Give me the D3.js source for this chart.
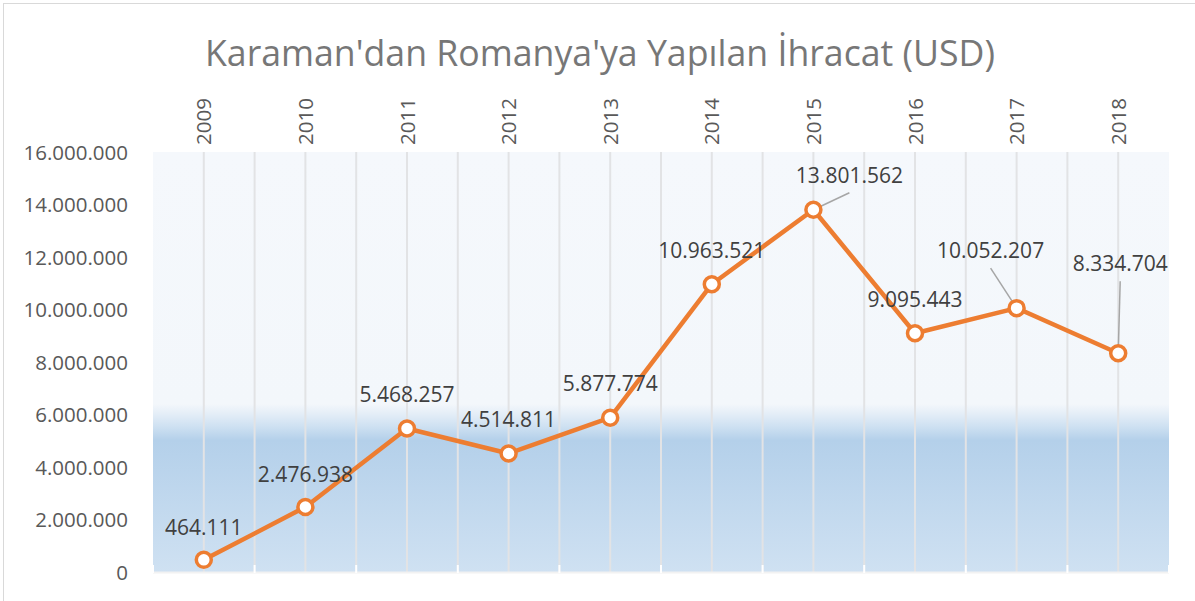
<!DOCTYPE html>
<html>
<head>
<meta charset="utf-8">
<script src="https://cdn.jsdelivr.net/npm/d3@7"></script>
<style>
  html, body { margin: 0; padding: 0; background: #fff; }
  svg { display: block; }
</style>
</head>
<body>
<div id="chart"></div>
<script>
// data
const years = ['2009', '2010', '2011', '2012', '2013', '2014', '2015', '2016', '2017', '2018']
const exports = [464111, 2476938, 5468257, 4514811, 5877774, 10963521, 13801562, 9095443, 10052207, 8334704]
const yTicks = [0, 2000000, 4000000, 6000000, 8000000, 10000000, 12000000, 14000000, 16000000]
const title = "Karaman'dan Romanya'ya Yapılan İhracat (USD)"

// label placement relative to the point: [dx, dy of baseline, leader line?]
const labelPlacement = [
  [0, -25, false], [0, -25, false], [0, -26, false], [0, -26, false], [0, -27, false],
  [0, -26, false], [36, -27, true], [0, -26, false], [-26, -50, true], [2, -82, true]
]

const width = 1195, height = 601
const margin = { top: 152, right: 26, bottom: 29, left: 153 }

const fmt = v => d3.format(',')(v).replace(/,/g, '.')

const svg = d3.select('#chart').append('svg')
  .attr('width', width)
  .attr('height', height)

// chart border
svg.append('rect')
  .attr('x', 3.5).attr('y', 3.5)
  .attr('width', width).attr('height', height)
  .attr('fill', '#fff')
  .attr('stroke', '#d9d9d9')

// plot area gradient
const defs = svg.append('defs')
const grad = defs.append('linearGradient')
  .attr('id', 'plotBg')
  .attr('x1', 0).attr('y1', 0).attr('x2', 0).attr('y2', 1)
const stops = [
  [0, '#f5f8fc'], [0.6, '#f3f7fb'], [0.625, '#e3edf7'], [0.655, '#cde0f1'], [0.686, '#b4d0ea'], [1, '#cfe1f2']
]
stops.forEach(s => grad.append('stop').attr('offset', s[0]).attr('stop-color', s[1]))

const x = d3.scalePoint()
  .domain(years)
  .range([margin.left, width - margin.right])
  .padding(0.5)
const step = x.step()

const y = d3.scaleLinear()
  .domain([0, 16000000])
  .range([height - margin.bottom, margin.top])

const plotW = width - margin.right - margin.left
svg.append('rect')
  .attr('x', margin.left).attr('y', margin.top)
  .attr('width', plotW).attr('height', y(0) - margin.top)
  .attr('fill', 'url(#plotBg)')

// vertical gridlines at centers and boundaries
const gridXs = []
years.forEach(yr => { gridXs.push(x(yr)); gridXs.push(x(yr) + step / 2) })
svg.append('g')
  .selectAll('line')
  .data(gridXs.filter(gx => gx < width - margin.right - 2))
  .join('line')
  .attr('x1', d => d).attr('x2', d => d)
  .attr('y1', margin.top).attr('y2', y(0))
  .attr('stroke', '#e2e3e5')
  .attr('stroke-width', 2)

// bottom axis (white line and inner ticks at boundaries)
const bounds = [x(years[0]) - step / 2].concat(years.map(yr => x(yr) + step / 2))
svg.append('line')
  .attr('x1', margin.left).attr('x2', width - margin.right)
  .attr('y1', y(0) + 0.5).attr('y2', y(0) + 0.5)
  .attr('stroke', '#f2f2f2').attr('stroke-width', 2)
svg.append('g')
  .selectAll('line')
  .data(bounds)
  .join('line')
  .attr('x1', d => d).attr('x2', d => d)
  .attr('y1', y(0) - 7).attr('y2', y(0) + 1)
  .attr('stroke', '#fff').attr('stroke-width', 2)

// y axis labels
svg.append('g')
  .selectAll('text')
  .data(yTicks)
  .join('text')
  .attr('x', 128)
  .attr('y', d => y(d) + 7.5)
  .attr('text-anchor', 'end')
  .attr('font-family', 'Open Sans, sans-serif')
  .attr('font-size', 20.5)
  .attr('fill', '#595959')
  .text(d => fmt(d))

// x axis labels (top, rotated)
svg.append('g')
  .selectAll('text')
  .data(years)
  .join('text')
  .attr('transform', d => `translate(${x(d) + 7.5},145) rotate(-90)`)
  .attr('text-anchor', 'start')
  .attr('font-family', 'Open Sans, sans-serif')
  .attr('font-size', 20.5)
  .attr('fill', '#595959')
  .text(d => d)

// title
svg.append('text')
  .attr('x', 600)
  .attr('y', 66)
  .attr('text-anchor', 'middle')
  .attr('font-family', 'Open Sans, sans-serif')
  .attr('font-size', 37)
  .attr('textLength', 790)
  .attr('lengthAdjust', 'spacingAndGlyphs')
  .attr('fill', '#777777')
  .text(title)

const pts = years.map((yr, i) => ({ year: yr, value: exports[i], p: labelPlacement[i] }))

// leader lines
svg.append('g')
  .selectAll('line')
  .data(pts.filter(d => d.p[2]))
  .join('line')
  .attr('x1', d => x(d.year))
  .attr('y1', d => y(d.value))
  .attr('x2', d => x(d.year) + d.p[0])
  .attr('y2', d => y(d.value) + d.p[1] + 10)
  .attr('stroke', '#a6a6a6')
  .attr('stroke-width', 1.5)

// the line
const line = d3.line().x(d => x(d.year)).y(d => y(d.value))
svg.append('path')
  .datum(pts)
  .attr('d', line)
  .attr('fill', 'none')
  .attr('stroke', '#ed7d31')
  .attr('stroke-width', 4.5)
  .attr('stroke-linejoin', 'round')

// markers
svg.append('g')
  .selectAll('circle')
  .data(pts)
  .join('circle')
  .attr('cx', d => x(d.year))
  .attr('cy', d => y(d.value))
  .attr('r', 7.5)
  .attr('fill', '#fff')
  .attr('stroke', '#ed7d31')
  .attr('stroke-width', 3.5)

// data labels
svg.append('g')
  .selectAll('text')
  .data(pts)
  .join('text')
  .attr('x', d => x(d.year) + d.p[0])
  .attr('y', d => y(d.value) + d.p[1])
  .attr('text-anchor', 'middle')
  .attr('font-family', 'Open Sans, sans-serif')
  .attr('font-size', 21)
  .attr('fill', '#404040')
  .text(d => fmt(d.value))
</script>
</body>
</html>
